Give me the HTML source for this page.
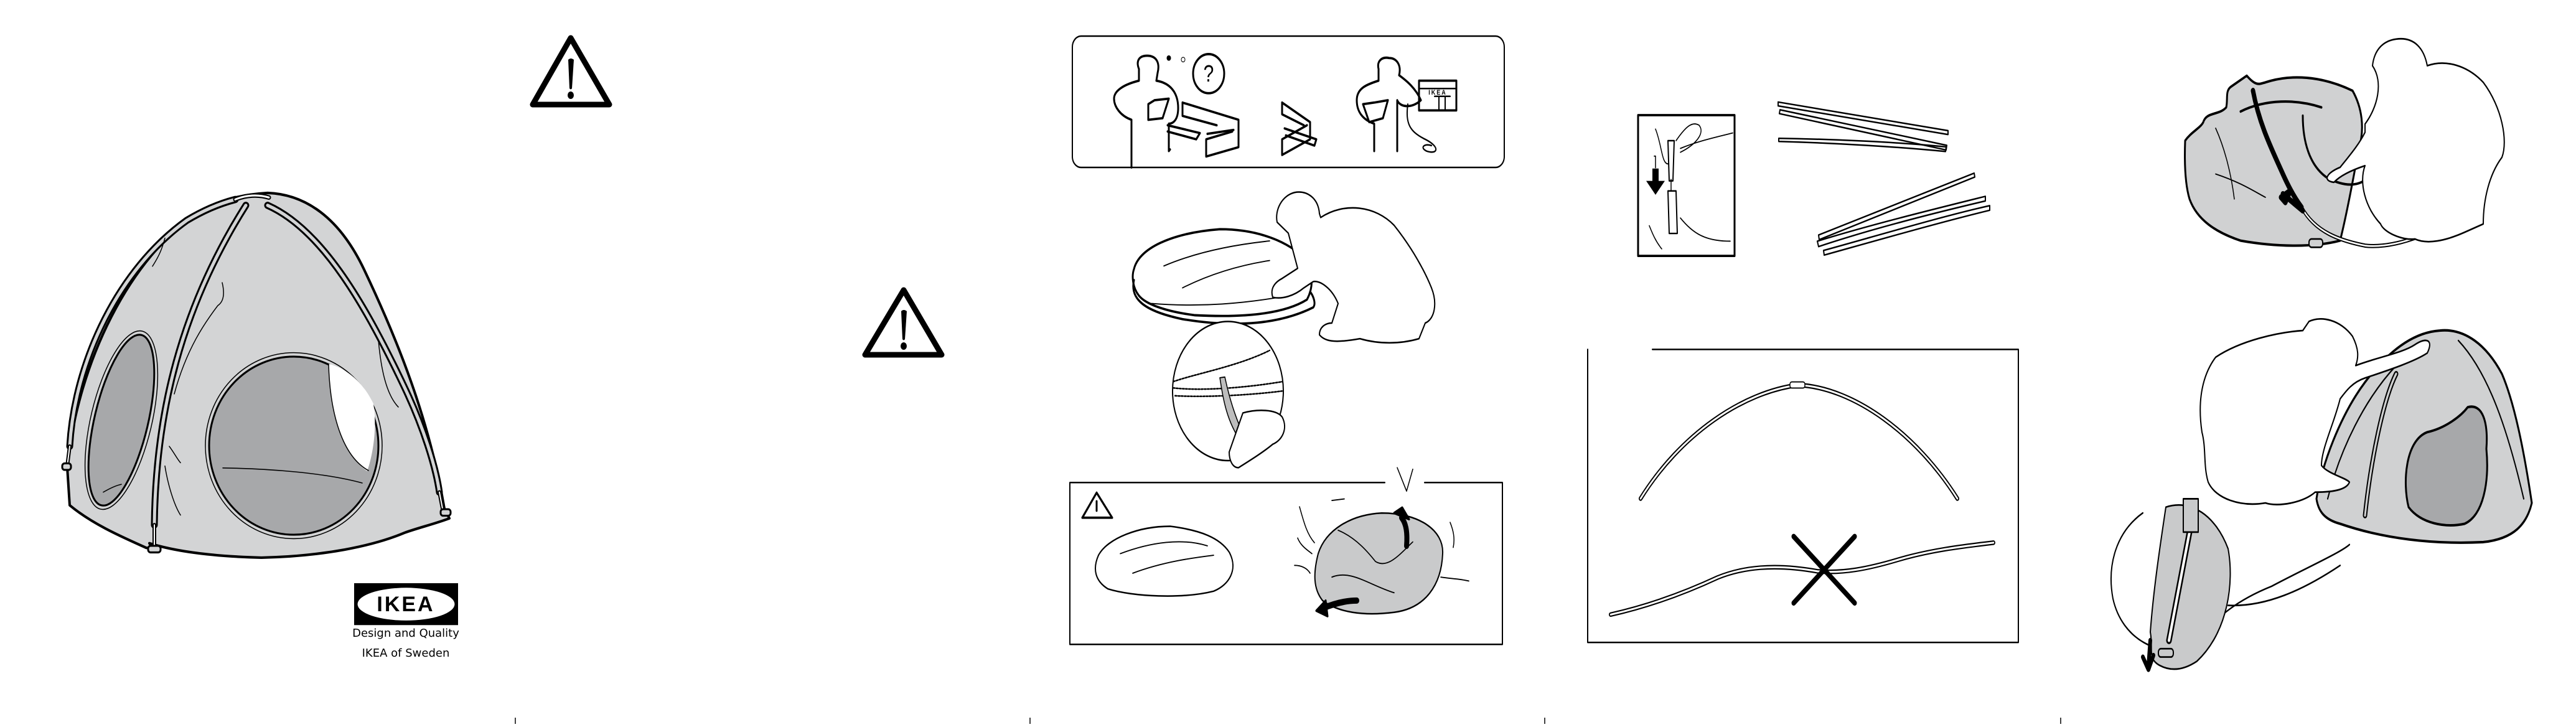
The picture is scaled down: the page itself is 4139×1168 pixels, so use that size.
<!DOCTYPE html>
<html><head><meta charset="utf-8">
<style>
html,body{margin:0;padding:0;background:#fff;}
body{width:4139px;height:1168px;overflow:hidden;position:relative;font-family:"Liberation Sans",sans-serif;}
svg{position:absolute;left:0;top:0;}
.t{font-family:"DejaVu Sans","Liberation Sans",sans-serif;}
</style></head><body>
<svg width="4139" height="1168" viewBox="0 0 4139 1168" xmlns="http://www.w3.org/2000/svg">

<!-- ===== PAGE 1: tent ===== -->
<g fill="none" stroke="#000" stroke-linecap="round" stroke-linejoin="round" transform="translate(0,-8.8) scale(1,1.052)">
<path d="M108,722 C125,560 210,400 320,332 C350,316 380,306 430,303 C490,305 545,340 585,420 C640,530 690,650 714,785 L722,800 C700,808 670,815 650,822 C600,842 520,858 420,860 C340,858 280,850 240,838 L245,846 L235,845 C200,830 150,810 112,780 Z" fill="#d3d4d5" stroke-width="4"/>
<ellipse cx="195" cy="650" rx="43" ry="134" transform="rotate(14 195 650)" fill="#a7a8aa" stroke-width="3"/>
<ellipse cx="195" cy="650" rx="49" ry="140" transform="rotate(14 195 650)" stroke-width="1.5"/>
<circle cx="472" cy="689" r="136" fill="#a7a8aa" stroke-width="3"/>
<circle cx="472" cy="689" r="142" stroke-width="1.5"/>
<path d="M528,564 C530,640 548,700 590,728 C600,700 606,660 600,625 C585,595 560,572 528,564 Z" fill="#fff" stroke="none"/>
<path d="M528,564 C530,640 550,705 592,727" stroke-width="1.5"/>
<path d="M358,723 C430,724 520,730 582,746" stroke-width="1.5"/>
<path d="M112,690 C120,560 190,420 300,345 C340,322 370,315 378,313" stroke-width="11"/>
<path d="M112,690 C120,560 190,420 300,345 C340,322 370,315 378,313" stroke="#d3d4d5" stroke-width="5"/>
<path d="M248,810 C250,640 290,480 395,322" stroke-width="11"/>
<path d="M248,810 C250,640 290,480 395,322" stroke="#d3d4d5" stroke-width="5"/>
<path d="M430,322 C520,360 590,480 650,600 C680,660 700,720 706,760" stroke-width="11"/>
<path d="M430,322 C520,360 590,480 650,600 C680,660 700,720 706,760" stroke="#d3d4d5" stroke-width="5"/>
<path d="M378,313 C395,306 415,305 432,310" stroke-width="7"/>
<path d="M378,313 C395,306 415,305 432,310" stroke="#fff" stroke-width="3"/>
<path d="M112,690 L108,720 M248,810 L248,843 M706,760 L712,790" stroke-width="6"/>
<path d="M112,690 L108,720 M248,810 L248,843 M706,760 L712,790" stroke="#fff" stroke-width="2"/>
<rect x="100" y="716" width="14" height="10" rx="4" fill="#d3d4d5" stroke-width="3"/>
<rect x="238" y="842" width="20" height="10" rx="4" fill="#d3d4d5" stroke-width="3"/>
<rect x="708" y="786" width="16" height="10" rx="4" fill="#d3d4d5" stroke-width="3"/>
<path d="M265,372 C260,390 255,400 245,415 M357,440 C362,460 358,470 350,475 C330,500 300,540 280,610 M608,528 C612,570 620,610 640,630 M272,690 C280,700 285,710 290,715 M265,720 C270,750 280,780 290,795 M166,760 C175,755 185,750 195,748" stroke-width="1.5"/>
<rect x="569" y="899" width="167" height="64" fill="#000" stroke="none"/>
<ellipse cx="652.5" cy="931" rx="78" ry="25" fill="#fff" stroke="none"/>
</g>
<text x="652" y="982" text-anchor="middle" font-family="Liberation Sans,sans-serif" font-weight="bold" font-size="34" letter-spacing="3" fill="#000">IKEA</text>
<text x="652" y="1023" text-anchor="middle" class="t" font-size="18" fill="#000">Design and Quality</text>
<text x="652" y="1055" text-anchor="middle" class="t" font-size="18" fill="#000">IKEA of Sweden</text>

<!-- ===== PAGE 2: warnings ===== -->
<g fill="none" stroke="#000" stroke-linecap="round" stroke-linejoin="round">
<path d="M917,61 L856,168 L979,168 Z" stroke-width="9"/>
<path d="M1452,466 L1390,570 L1513,570 Z" stroke-width="9"/>
</g>
<g fill="#000">
<path d="M913,96 Q917,92 922,96 L919,142 Q917,145 915,142 Z"/><ellipse cx="917" cy="153" rx="5" ry="6"/>
<path d="M1448,500 Q1452,496 1457,500 L1454,545 Q1452,548 1450,545 Z"/><ellipse cx="1452" cy="556" rx="5" ry="6"/>
</g>

<!-- ===== PAGE 3 ===== -->
<g fill="none" stroke="#000" stroke-linecap="round" stroke-linejoin="round" transform="translate(0,-14.8) scale(1,1.256)">
<rect x="1723" y="58" width="694" height="168" rx="14" stroke-width="2"/>
<path d="M1818,226 L1818,205 L1818,165 C1800,160 1790,148 1790,138 C1790,128 1805,120 1830,115 L1830,100 C1825,90 1830,83 1843,83 C1858,83 1864,92 1860,105 L1858,115 C1880,118 1893,130 1893,150 C1893,165 1885,170 1878,170 L1878,205 L1880,203" stroke-width="3"/>
<path d="M1845,145 L1845,165 L1868,163 L1878,138 L1855,140 Z" stroke-width="3" fill="#fff"/>
<circle cx="1942" cy="106" r="25" stroke-width="3"/>
<text x="1942" y="116" text-anchor="middle" font-size="30" fill="#000" stroke="none" font-family="Liberation Sans,sans-serif">?</text>
<circle cx="1878" cy="86" r="3" fill="#000"/><circle cx="1901" cy="88" r="3"/>
<path d="M1900,143 L1990,165 L1990,200 L1938,212 L1938,190 L1980,180 M1900,143 L1900,160 L1955,172 M1876,172 L1928,182 L1922,190 L1876,180" stroke-width="3"/>
<path d="M1940,183 L1982,178 M2060,143 L2105,168 L2105,190 L2060,210 L2060,190 L2100,172 M2060,143 L2060,158 L2095,172 M2064,176 L2115,190 L2112,198 L2066,185" stroke-width="3"/>
<path d="M2208,205 L2208,170 C2190,165 2180,155 2180,140 C2180,125 2195,120 2215,115 L2215,100 C2212,90 2220,84 2232,86 C2244,86 2252,95 2248,108 C2260,115 2275,125 2283,140 C2270,150 2250,150 2245,140 L2245,205" stroke-width="3"/>
<path d="M2190,145 L2200,168 L2222,163 L2230,140 L2208,143 Z" stroke-width="3" fill="#fff"/>
<rect x="2280" y="115" width="60" height="38" stroke-width="3"/>
<path d="M2280,125 L2340,125 M2312,135 L2312,153 M2322,135 L2322,153 M2305,135 L2330,135" stroke-width="2"/>
<text x="2310" y="133" text-anchor="middle" font-size="9" font-weight="bold" fill="#000" stroke="none" font-family="Liberation Sans,sans-serif" letter-spacing="2">IKEA</text>
<path d="M2262,145 C2258,170 2265,180 2290,190 C2315,200 2310,210 2292,205 C2280,200 2290,195 2300,198" stroke-width="2"/>
<path d="M1822,356 C1830,330 1880,310 1960,305 C2020,305 2070,320 2100,345 C2110,365 2110,380 2100,395 C2060,415 1990,418 1920,415 C1870,410 1840,400 1830,390 C1820,380 1818,365 1822,356 Z" stroke-width="3" fill="#fff"/>
<path d="M1822,370 C1815,395 1840,410 1900,420 C1990,432 2060,425 2110,405 C2115,400 2110,390 2105,385" stroke-width="3"/>
<path d="M1870,352 C1920,335 1980,325 2040,320 M1900,380 C1950,360 2000,350 2040,345 M1850,400 C1930,405 2000,400 2070,390" stroke-width="1.5"/>
<path d="M2052,296 C2048,280 2060,262 2080,258 C2100,255 2118,265 2120,285 L2122,290 C2160,270 2210,275 2240,300 C2270,330 2290,360 2300,380 C2310,400 2305,420 2290,425 L2280,445 C2250,452 2215,452 2185,445 C2150,450 2130,450 2120,440 C2120,430 2130,425 2140,425 L2150,400 C2140,380 2120,370 2110,372 L2095,380 C2080,390 2060,395 2045,392 C2040,380 2050,372 2060,368 L2085,355 C2080,340 2075,325 2070,310 Z" stroke-width="2" fill="#fff"/>
<circle cx="1973" cy="512" r="89" stroke-width="2" fill="#fff"/>
<path d="M1885,500 C1920,490 1990,480 2040,460 M1885,508 C1930,512 2000,508 2060,500 M1888,518 C1930,520 2000,518 2060,512" stroke-width="2" stroke-dasharray="3 2"/>
<path d="M1960,495 C1965,520 1970,550 1995,578 L2002,574 C1985,548 1975,520 1968,494 Z" fill="#bdbdbd" stroke-width="1.5"/>
<path d="M1997,540 C2020,535 2050,535 2060,545 C2070,560 2060,575 2045,580 C2030,590 2010,600 1990,610 C1980,610 1975,600 1975,590 Z" stroke-width="2" fill="#fff"/>
<path d="M2225,629 L1719,629 L1719,836 L2414,836 L2414,629 L2289,629" stroke-width="2"/>
<path d="M1762,642 L1739,674 L1787,674 Z" stroke-width="3"/>
<path d="M1762,653 L1762,665" stroke-width="3"/>
<path d="M1765,722 C1780,700 1830,685 1880,685 C1930,690 1960,700 1975,718 C1990,740 1975,760 1950,768 C1900,778 1820,775 1780,765 C1760,755 1755,740 1765,722 Z" stroke-width="2" fill="#fff"/>
<path d="M1800,720 C1850,705 1900,700 1940,710 M1820,745 C1870,730 1920,725 1950,722" stroke-width="1.5"/>
<path d="M2118,720 C2130,690 2170,670 2220,668 C2280,668 2320,690 2318,720 C2316,760 2290,790 2240,795 C2190,800 2150,795 2125,780 C2110,765 2110,745 2118,720 Z" fill="#c9cacb" stroke-width="2"/>
<path d="M2150,690 C2180,700 2200,720 2210,730 C2230,740 2250,720 2270,705 M2140,750 C2170,740 2200,760 2240,770" stroke-width="1.5"/>
<path d="M2260,710 C2262,690 2258,680 2252,674" stroke-width="8"/>
<path d="M2240,668 L2253,661 L2264,676 Z" fill="#000" stroke-width="3"/>
<path d="M2180,780 C2160,780 2140,785 2125,790" stroke-width="8"/>
<path d="M2115,793 L2130,780 L2133,800 Z" fill="#000" stroke-width="3"/>
<path d="M2088,660 C2095,680 2100,695 2112,706 M2085,700 C2090,710 2100,715 2108,720 M2080,735 C2090,735 2100,738 2105,745 M2330,680 C2335,690 2338,700 2335,712 M2315,750 C2330,752 2345,752 2360,755 M2140,652 L2160,650 M2245,610 L2260,640 L2270,612" stroke-width="1.5"/>
</g>

<!-- ===== PAGE 4 ===== -->
<g fill="none" stroke="#000" stroke-linecap="round" stroke-linejoin="round" transform="translate(0,-34.8) scale(1,1.242)">
<rect x="2632" y="177" width="155" height="182" stroke-width="3"/>
<path d="M2680,210 L2682,262 L2688,262 L2690,210 Z M2680,275 L2682,330 L2695,330 L2693,275 Z" stroke-width="2" fill="#fff"/>
<path d="M2685,260 L2685,275" stroke-width="1.5"/>
<path d="M2660,245 L2660,230 L2658,230 M2660,195 C2670,215 2670,240 2680,240 M2693,210 C2710,190 2720,185 2730,190 C2740,200 2725,215 2700,225 M2650,320 C2655,330 2660,340 2670,350 M2700,310 C2720,330 2740,340 2780,340 M2700,220 C2730,210 2760,205 2784,200" stroke-width="1.5"/>
<path d="M2655,246 L2665,246 L2665,262 L2675,262 L2660,280 L2645,262 L2655,262 Z" fill="#000" stroke="none"/>
<g stroke-width="2">
<path d="M2857,160 L3130,197 L3130,202 L2857,165 Z"/>
<path d="M2860,170 L3128,216 L3127,222 L2859,175 Z"/>
<path d="M2858,207 C2950,208 3050,212 3127,218 L3126,224 C3050,218 2950,213 2858,211 Z"/>
<path d="M2922,332 L3172,252 L3173,257 L2923,338 Z"/>
<path d="M2920,340 C3000,320 3100,300 3190,282 L3190,288 C3100,305 3000,326 2922,347 Z"/>
<path d="M2930,352 C3020,332 3120,308 3197,294 L3197,300 C3120,315 3020,338 2931,358 Z"/>
</g>
<path d="M2551,480 L2551,859 L3243,859 L3243,480 L2655,480" stroke-width="2"/>
<path d="M2636,673 C2700,590 2800,535 2890,526 C2980,530 3080,590 3145,673" stroke-width="6"/>
<path d="M2636,673 C2700,590 2800,535 2890,526 C2980,530 3080,590 3145,673" stroke="#fff" stroke-width="2.5"/>
<rect x="2876" y="522" width="24" height="8" rx="3" fill="#fff" stroke-width="1.5"/>
<path d="M2588,823 C2660,810 2720,790 2760,775 C2800,762 2850,757 2920,767 C2960,770 3000,764 3050,752 C3100,740 3150,735 3203,730" stroke-width="6"/>
<path d="M2588,823 C2660,810 2720,790 2760,775 C2800,762 2850,757 2920,767 C2960,770 3000,764 3050,752 C3100,740 3150,735 3203,730" stroke="#fff" stroke-width="2.5"/>
<path d="M2882,722 L2980,808 M2980,722 L2882,808" stroke-width="7"/>
</g>

<!-- ===== PAGE 5 ===== -->
<g fill="none" stroke="#000" stroke-linecap="round" stroke-linejoin="round" transform="translate(0,-28.2) scale(1,1.338)">
<path d="M3511,190 C3520,180 3535,175 3540,168 C3545,155 3565,160 3577,150 C3580,140 3575,130 3585,125 L3610,112 C3625,125 3630,122 3640,120 C3680,110 3730,112 3780,130 C3795,150 3800,175 3790,200 C3780,240 3770,280 3760,310 C3720,318 3660,318 3600,310 C3560,300 3530,285 3518,260 C3510,240 3510,210 3511,190 Z" fill="#d0d1d2" stroke-width="3"/>
<path d="M3600,155 C3640,140 3690,140 3730,150 M3700,160 C3700,190 3710,220 3740,235 C3780,250 3800,240 3810,230" stroke-width="3"/>
<path d="M3620,130 C3630,170 3650,200 3668,230 C3680,250 3690,262 3698,270" stroke-width="7"/>
<path d="M3698,270 C3720,300 3760,310 3800,316 C3850,320 3920,300 3990,262" stroke-width="5"/>
<path d="M3698,270 C3720,300 3760,310 3800,316 C3850,320 3920,300 3990,262" stroke="#fff" stroke-width="2"/>
<path d="M3680,250 L3665,258 L3672,264 Z M3668,254 L3700,274" stroke-width="7"/>
<path d="M3560,230 C3600,240 3620,250 3640,258 M3560,175 C3575,200 3585,230 3590,260" stroke-width="1.5"/>
<rect x="3710" y="308" width="22" height="10" rx="4" fill="#d0d1d2" stroke-width="2"/>
<path d="M3800,170 C3820,150 3830,120 3812,100 C3815,80 3830,70 3850,68 C3880,65 3895,80 3900,100 C3930,92 3965,100 3990,120 C4020,150 4030,190 4020,210 C4000,230 3990,260 3990,290 L3960,300 C3930,310 3900,315 3880,308 C3860,310 3830,300 3825,290 C3800,270 3790,240 3800,220 C3780,225 3760,232 3750,240 C3730,238 3740,228 3760,222 C3775,208 3790,195 3800,180 Z" fill="#fff" stroke-width="2"/>
<path d="M3722,620 C3730,580 3760,520 3800,480 C3840,440 3880,420 3920,418 C3960,415 3995,435 4020,470 C4040,505 4055,560 4068,625 C4060,650 4040,668 3990,672 C3910,675 3830,668 3760,650 C3735,645 3725,635 3722,620 Z" fill="#d0d1d2" stroke-width="3"/>
<path d="M3870,630 C3860,600 3865,550 3900,540 C3930,535 3955,520 3965,510 C3990,505 3998,530 3995,560 C4000,600 3990,640 3960,650 C3930,655 3890,650 3870,630 Z" fill="#a7a8aa" stroke-width="3"/>
<path d="M3800,640 C3810,570 3830,500 3850,470" stroke-width="7"/>
<path d="M3800,640 C3810,570 3830,500 3850,470" stroke="#d0d1d2" stroke-width="3"/>
<path d="M3740,620 C3760,560 3800,500 3850,460 M3950,430 C4000,470 4030,540 4055,620" stroke-width="2"/>
<path d="M3538,540 C3530,500 3540,470 3560,450 C3600,430 3660,420 3700,418 L3710,407 C3730,400 3760,405 3780,425 C3790,440 3790,450 3785,460 C3820,450 3860,445 3880,435 C3900,425 3910,430 3900,445 C3880,455 3840,465 3800,475 C3780,480 3770,490 3760,500 C3750,530 3730,560 3730,580 C3740,590 3770,595 3775,600 C3770,610 3745,612 3720,612 C3700,625 3660,630 3640,625 C3600,630 3560,620 3548,600 C3540,580 3545,560 3538,540 Z" fill="#fff" stroke-width="2"/>
<path d="M3443,637 C3400,660 3385,700 3395,740 C3410,790 3470,810 3520,800 C3560,760 3600,740 3650,725 C3700,705 3760,685 3775,675" stroke-width="2"/>
<path d="M3480,630 C3520,620 3560,640 3580,680 C3590,720 3580,780 3530,815 C3510,825 3490,828 3470,820 C3450,812 3460,800 3455,780 C3460,730 3470,680 3480,630 Z" fill="#c9cacb" stroke-width="2"/>
<path d="M3580,748 C3640,750 3700,730 3760,700" stroke-width="2"/>
<path d="M3518,660 L3485,790" stroke-width="9"/>
<path d="M3518,660 L3485,790" stroke="#fff" stroke-width="4"/>
<rect x="3508" y="620" width="24" height="40" fill="#c9cacb" stroke-width="2"/>
<path d="M3455,790 L3452,820 M3443,810 L3452,825 L3460,808" stroke-width="6"/>
<rect x="3468" y="800" width="24" height="10" rx="4" fill="#c9cacb" stroke-width="2"/>
</g>

<!-- ticks -->
<g stroke="#000" stroke-width="1.5">
<path d="M828,1153 L828,1163 M1655,1153 L1655,1163 M2482,1153 L2482,1163 M3311,1153 L3311,1163"/>
</g>
</svg>
</body></html>
